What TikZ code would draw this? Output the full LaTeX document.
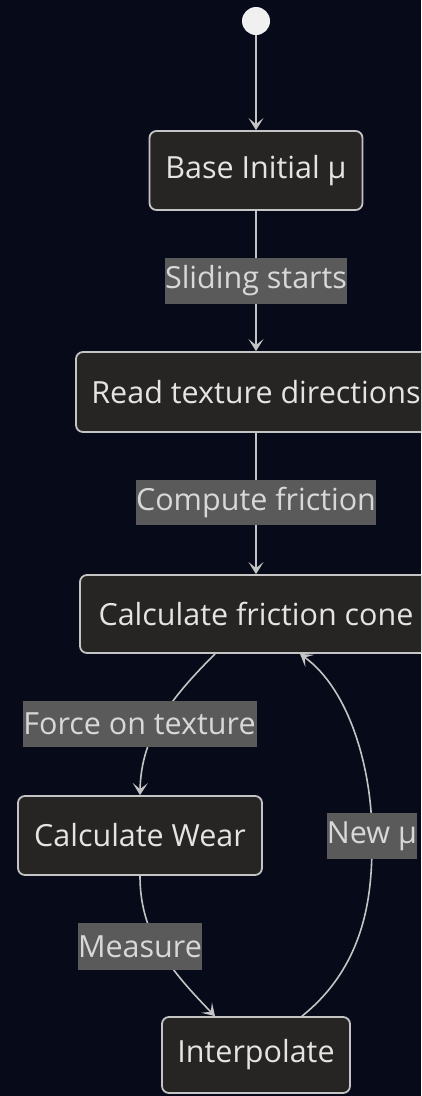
\documentclass[tikz,border=0pt]{standalone}
\usepackage{fontspec}
\setmainfont{Open Sans}
\usetikzlibrary{arrows.meta}
\definecolor{bgnavy}{HTML}{070B19}
\definecolor{boxfill}{HTML}{272523}
\definecolor{boxline}{HTML}{C4C4C4}
\definecolor{lblfill}{HTML}{5A5A5A}
\definecolor{lbltext}{HTML}{D8D8D8}
\definecolor{boxtext}{HTML}{E4E4E4}
\tikzset{
  statebox/.style={draw=boxline, line width=1.8pt, fill=boxfill, rounded corners=7pt,
    text=boxtext, font=\fontsize{30.5}{34}\selectfont, inner sep=0pt},
  edgelabel/.style={fill=lblfill, text=lbltext, font=\fontsize{30.5}{34}\selectfont, inner sep=0pt},
  flow/.style={draw=boxline, line width=1.6pt, -{Stealth[length=12pt,width=15pt,inset=6pt]}}
}
\begin{document}
\begin{tikzpicture}[x=1pt,y=-1pt]

        % Background and frame
        \fill[bgnavy] (0,0) rectangle (421,1096);
        \useasboundingbox (0,0) rectangle (421,1096);
        \clip (0,0) rectangle (421,1096);

        % Start point
        \node[circle, fill=white!94!black, minimum size=28pt, inner sep=0pt] (start) at (256,21) {};

        % States
        \node[statebox, minimum width=213pt, minimum height=79pt] (base) at (256,170.5) {Base Initial µ};
        \node[statebox, minimum width=360pt, minimum height=80pt] (read) at (256,392) {Read texture directions};
        \node[statebox, minimum width=352pt, minimum height=78pt] (cone) at (256,614) {Calculate friction cone};
        \node[statebox, minimum width=244pt, minimum height=79pt] (wear) at (140,835.5) {Calculate Wear};
        \node[statebox, minimum width=188pt, minimum height=76pt] (interp) at (256,1055) {Interpolate};

        % Label positions
        \coordinate (sliding) at (256,281);
        \coordinate (compute) at (256,502.5);
        \coordinate (force) at (139.5,724);
        \coordinate (newmu) at (372,836);
        \coordinate (measure) at (140,946.5);

        % Transitions
        \draw[flow] (start) -- (base);
        \draw[flow] (base) -- (read);
        \draw[flow] (read) -- (cone);
        \draw[flow] ([xshift=-41pt]cone.south) .. controls (172,697) and (141,735) .. (wear.north);
        \draw[flow] (wear.south) .. controls (140,930) and (165,965) .. ([xshift=-41pt]interp.north);
        \draw[flow] ([xshift=46pt]interp.north) .. controls (372,960) and (372,880) .. (newmu)
            .. controls (372,770) and (350,690) .. ([xshift=44pt]cone.south);

        % Transition labels
        \node[edgelabel, minimum width=179pt, minimum height=46pt] at (sliding) {Sliding starts};
        \node[edgelabel, minimum width=237pt, minimum height=45pt] at (compute) {Compute friction};
        \node[edgelabel, minimum width=234pt, minimum height=46pt] at (force) {Force on texture};
        \node[edgelabel, minimum width=86pt, minimum height=46pt] at (newmu) {New µ};
        \node[edgelabel, minimum width=114pt, minimum height=47pt] at (measure) {Measure};

    \end{tikzpicture}
\end{document}
